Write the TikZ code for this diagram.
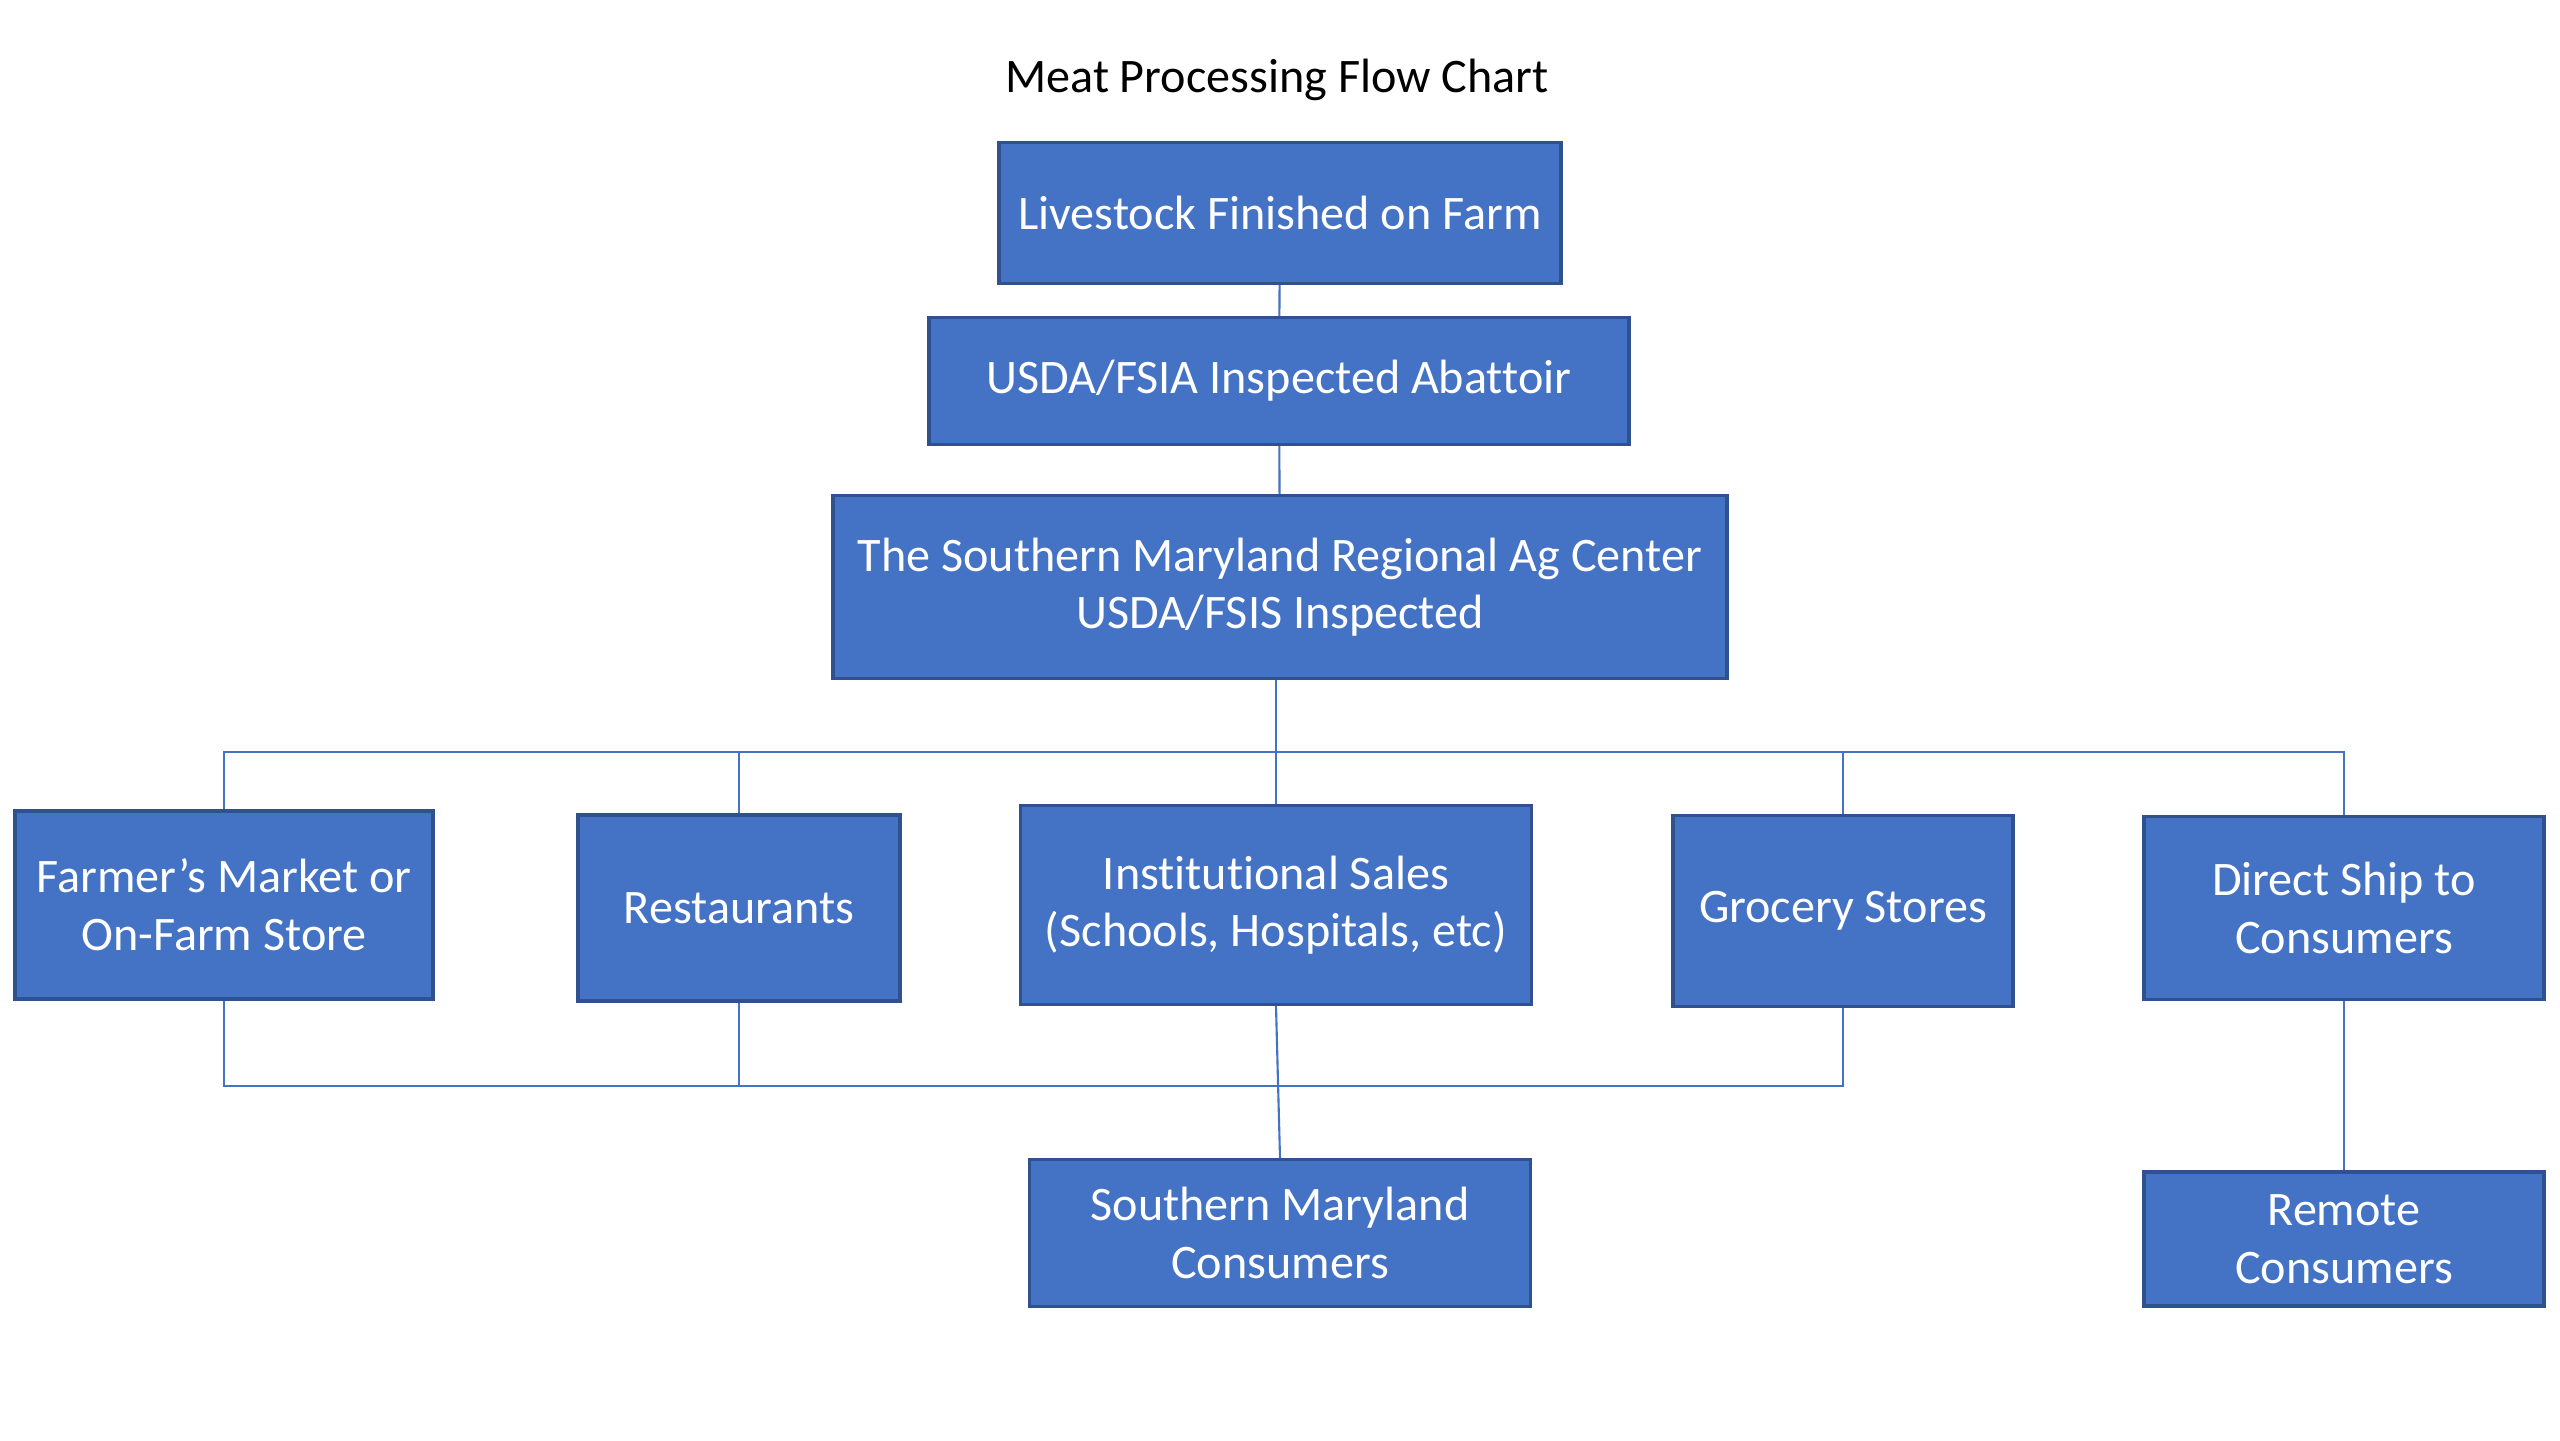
\documentclass[tikz,border=0pt]{standalone}
\usepackage{fontspec}
\setmainfont[Ligatures=NoCommon]{Carlito}
\usepackage{tikz}
\usetikzlibrary{positioning}
\usetikzlibrary{calc}
\definecolor{boxblue}{HTML}{4472C4}
\definecolor{boxedge}{HTML}{2F528F}
\tikzstyle{stage}=[rectangle,draw=boxedge,fill=boxblue,line width=0.9pt,text=white,align=center,inner sep=0pt]
\tikzstyle{link} = [draw=boxblue,line width=0.6pt]

\begin{document}
\begin{tikzpicture}[font=\fontsize{13.7}{16.4}\selectfont]

\useasboundingbox (0,0) rectangle (25.6,-14.4);

%title
\node (title) at (12.77,-0.80) {Meat Processing Flow Chart};

%stages
\node[stage, minimum width=5.62cm, minimum height=1.41cm] (live) at (12.80,-2.13) {Livestock Finished on Farm};
\node[stage, minimum width=7.00cm, minimum height=1.27cm] (abat) at (12.79,-3.81) {USDA/FSIA Inspected Abattoir};
\node[stage, minimum width=8.94cm, minimum height=1.83cm] (center) at (12.80,-5.87) {The Southern Maryland Regional Ag Center\\USDA/FSIS Inspected};

%outlets
\node[stage, minimum width=4.18cm, minimum height=1.88cm] (farm) at (2.24,-9.05) {Farmer’s Market or\\On-Farm Store};
\node[stage, minimum width=3.22cm, minimum height=1.86cm] (rest) at (7.39,-9.08) {Restaurants};
\node[stage, minimum width=5.11cm, minimum height=1.99cm] (inst) at (12.76,-9.05) {Institutional Sales\\(Schools, Hospitals, etc)};
\node[stage, minimum width=3.40cm, minimum height=1.91cm] (groc) at (18.43,-9.11) {Grocery Stores};
\node[stage, minimum width=4.00cm, minimum height=1.83cm] (ship) at (23.44,-9.08) {Direct Ship to\\Consumers};

%consumers
\node[stage, minimum width=5.01cm, minimum height=1.47cm] (smc) at (12.80,-12.33) {Southern Maryland\\Consumers};
\node[stage, minimum width=4.00cm, minimum height=1.34cm] (remote) at (23.44,-12.39) {Remote\\Consumers};

%bus lines
\coordinate (topbus) at (12.76,-7.52);
\coordinate (lowbus) at (12.76,-10.86);

%vertical edges
\draw[link] (live) to (abat);
\draw[link] (abat) to (center);
\draw[link] (center.south -| topbus) to (topbus);

%top bus
\draw[link] (farm.north) -- (farm.north |- topbus) -- (ship.north |- topbus) -- (ship.north);
\draw[link] (rest.north) -- (rest.north |- topbus);
\draw[link] (inst.north) -- (inst.north |- topbus);
\draw[link] (groc.north) -- (groc.north |- topbus);

%bottom bus
\draw[link] (farm.south) -- (farm.south |- lowbus) -- (groc.south |- lowbus) -- (groc.south);
\draw[link] (rest.south) -- (rest.south |- lowbus);
\draw[link] (inst.south) -- (smc.north);
\draw[link] (ship) to (remote);

\end{tikzpicture}
\end{document}
